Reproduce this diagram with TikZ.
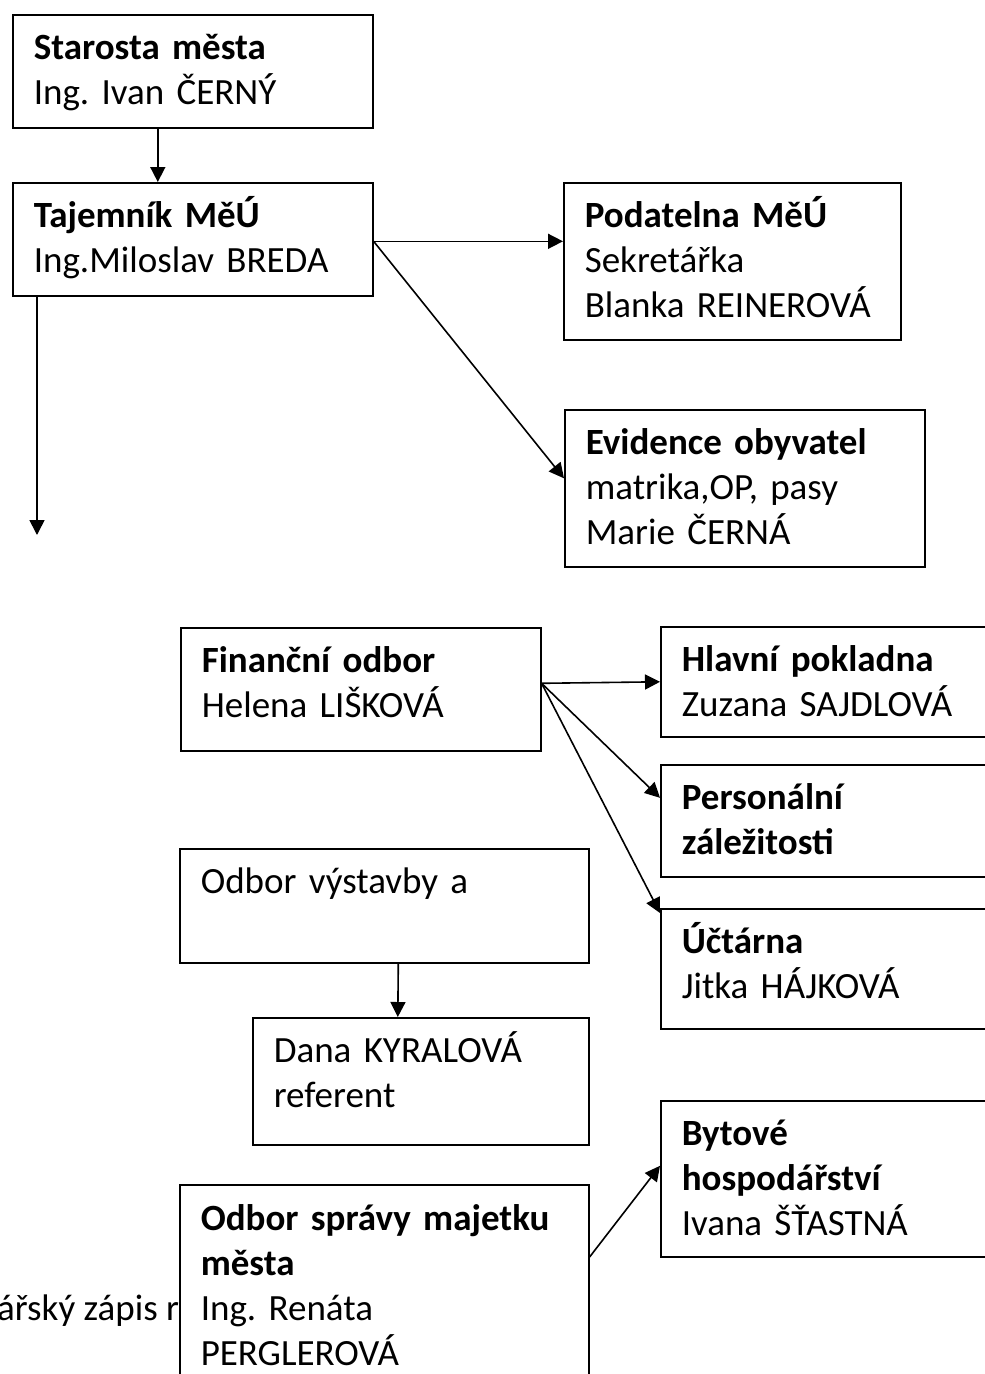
\documentclass[tikz,border=0pt]{standalone}
\usepackage{fontspec}
\setmainfont{Carlito}
\usetikzlibrary{arrows.meta}

\tikzset{
  orgbox/.style={draw, fill=white, line width=1.6pt, anchor=north west, align=left,
    inner xsep=21pt, inner ysep=0pt, text height=45pt,
    font=\fontsize{37pt}{45pt}\selectfont\frenchspacing},
  arr/.style={line width=1.6pt, -{Triangle[length=15pt,width=15pt]}}
}

\begin{document}
\begin{tikzpicture}[x=1pt, y=-1pt]
    \useasboundingbox[fill=white] (0,0) rectangle (985,1374);
    \clip (0,0) rectangle (985,1374);

    % vedeni
    \node[orgbox, text width=318pt, text depth=68pt] (starosta) at (12,14) {\textbf{Starosta města}\\Ing. Ivan ČERNÝ};
    \node[orgbox, text width=318pt, text depth=68pt] (tajemnik) at (12,182) {\textbf{Tajemník MěÚ}\\Ing.Miloslav BREDA};
    \node[orgbox, text width=295pt, text depth=112pt] (podatelna) at (563,182) {\textbf{Podatelna MěÚ}\\Sekretářka\\Blanka REINEROVÁ};
    \node[orgbox, text width=318pt, text depth=112pt] (evidence) at (564,409) {\textbf{Evidence obyvatel}\\matrika,OP, pasy\\Marie ČERNÁ};
    \coordinate (tajdolu) at (37,535);

    % financni odbor
    \node[orgbox, text width=318pt, text depth=78pt] (finance) at (180,627) {\textbf{Finanční odbor}\\Helena LIŠKOVÁ};
    \node[orgbox, text width=360pt, text depth=65pt] (hlavni) at (660,626) {\textbf{Hlavní pokladna}\\Zuzana SAJDLOVÁ};
    \node[orgbox, text width=360pt, text depth=67pt] (personal) at (660,764) {\textbf{Personální}\\\textbf{záležitosti}};
    \node[orgbox, text width=360pt, text depth=75pt] (uctarna) at (660,908) {\textbf{Účtárna}\\Jitka HÁJKOVÁ};

    % vystavba
    \node[orgbox, text width=367pt, text depth=69pt] (vystavba) at (179,848) {Odbor výstavby a};
    \node[orgbox, text width=294pt, text depth=82pt] (dana) at (252,1017) {Dana KYRALOVÁ\\referent};

    % sprava majetku
    \node[anchor=base west, inner sep=0pt, font=\fontsize{37pt}{45pt}\selectfont] (zapis) at (-3,1320) {ářský zápis ro};
    \node[orgbox, text width=367pt, text height=46pt, text depth=260pt] (sprava) at (179,1184) {\textbf{Odbor správy majetku}\\\textbf{města}\\Ing. Renáta\\PERGLEROVÁ};
    \node[orgbox, text width=360pt, text depth=111pt] (bytove) at (660,1100) {\textbf{Bytové}\\\textbf{hospodářství}\\Ivana ŠŤASTNÁ};

    \draw[arr] ([xshift=-35pt]starosta.south) -- ([xshift=-35pt]tajemnik.north);
    \draw[arr] ([yshift=-2pt]tajemnik.east) -- ([yshift=-2pt]tajemnik.east -| podatelna.west);
    \draw[arr] ([yshift=-2pt]tajemnik.east) -- ([yshift=10pt]evidence.west);
    \draw[arr] ([xshift=25pt]tajemnik.south west) -- (tajdolu);

    \draw[arr] ([yshift=6pt]finance.east) -- (hlavni.west);
    \draw[arr] ([yshift=6pt]finance.east) -- ([yshift=23pt]personal.west);
    \draw[arr] ([yshift=6pt]finance.east) -- ([yshift=-5pt]uctarna.north west);

    \draw[arr] ([xshift=14pt]vystavba.south) -- ([xshift=-23pt]dana.north);
    \draw[arr] ([yshift=-73pt]sprava.north east) -- ([yshift=13pt]bytove.west);
\end{tikzpicture}
\end{document}
